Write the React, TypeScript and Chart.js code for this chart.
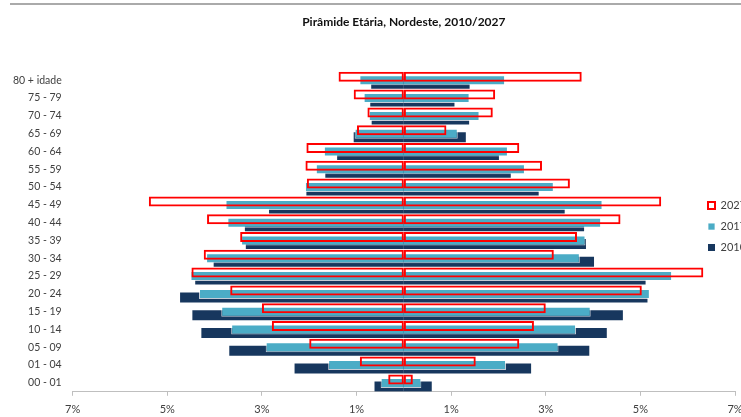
import React, { useEffect, useRef } from "react";
import { Chart, registerables } from "chart.js";

Chart.register(...registerables);

// Age groups (bottom to top of the pyramid)
const ageGroups = [
  "00 - 01", "01 - 04", "05 - 09", "10 - 14", "15 - 19", "20 - 24",
  "25 - 29", "30 - 34", "35 - 39", "40 - 44", "45 - 49", "50 - 54",
  "55 - 59", "60 - 64", "65 - 69", "70 - 74", "75 - 79", "80 + idade",
];

// Left side of the pyramid (shown as positive %, drawn to the left)
const left2010 = [0.62, 2.31, 3.69, 4.28, 4.47, 4.73, 4.41, 4.02, 3.34, 3.36, 2.85, 2.06, 1.66, 1.41, 1.06, 0.68, 0.71, 0.69];
const left2017 = [0.49, 1.60, 2.92, 3.65, 3.86, 4.33, 4.51, 4.18, 3.44, 3.73, 3.77, 2.09, 1.86, 1.69, 1.04, 0.74, 0.85, 0.94];
const left2027 = [0.33, 0.93, 2.00, 2.79, 3.00, 3.67, 4.49, 4.23, 3.46, 4.16, 5.39, 2.05, 2.08, 2.06, 0.99, 0.77, 1.06, 1.38];

// Right side of the pyramid
const right2010 = [0.59, 2.69, 3.92, 4.29, 4.63, 5.15, 5.11, 4.02, 3.85, 3.81, 3.40, 2.85, 2.26, 2.01, 1.31, 1.38, 1.07, 1.39];
const right2017 = [0.37, 2.16, 3.27, 3.64, 3.95, 5.20, 5.67, 3.72, 3.84, 4.17, 4.20, 3.17, 2.56, 2.20, 1.14, 1.60, 1.39, 2.14];
const right2027 = [0.19, 1.52, 2.44, 2.75, 3.00, 5.03, 6.33, 3.17, 3.66, 4.58, 5.44, 3.51, 2.92, 2.44, 0.90, 1.88, 1.93, 3.76];

const seriesLabels = ["2027", "2017", "2010"];
const xTickValues = [-7, -5, -3, -1, 1, 3, 5, 7];
const titleText = "Pirâmide Etária, Nordeste, 2010/2027";

const FONT = "Lato, 'Open Sans', sans-serif";
const RED = "#ff0000";
const LIGHT = "#4bacc6";
const DARK = "#17375e";

// Place the legend over the right edge of the plot, as in the original
const legendShift = {
  id: "legendShift",
  beforeDraw(chart: any) {
    const lg = chart.legend;
    if (!lg) return;
    lg.left = chart.chartArea.right - 37;
    lg.width = 80;
    lg.right = lg.left + lg.width;
    lg.top = chart.chartArea.top - 5;
    lg.bottom = chart.chartArea.bottom - 5;
    lg.height = lg.bottom - lg.top;
  },
};

export default function App() {
  const ref = useRef<HTMLCanvasElement | null>(null);

  useEffect(() => {
    if (!ref.current) return;
    const neg = (a: number[]) => a.map((v) => -v);
    const styles: Record<string, any> = {
      "2027": {
        backgroundColor: "rgba(255,255,255,0)",
        borderColor: RED,
        borderWidth: 2,
        borderSkipped: false,
      },
      "2017": {
        backgroundColor: LIGHT,
        borderColor: "rgba(255,255,255,0.75)",
        borderWidth: 1,
        borderSkipped: "start",
      },
      "2010": {
        backgroundColor: DARK,
        borderColor: DARK,
        borderWidth: 0,
        borderSkipped: "start",
      },
    };
    const leftData: Record<string, number[]> = { "2010": left2010, "2017": left2017, "2027": left2027 };
    const rightData: Record<string, number[]> = { "2010": right2010, "2017": right2017, "2027": right2027 };
    const datasets: any[] = [];
    seriesLabels.forEach((s) => {
      datasets.push({ label: s, stack: s, data: rightData[s], ...styles[s] });
      datasets.push({ label: s, stack: s, data: neg(leftData[s]), ...styles[s] });
    });

    const chart = new Chart(ref.current, {
      type: "bar",
      data: { labels: ageGroups, datasets },
      plugins: [legendShift],
      options: {
        indexAxis: "y",
        animation: false,
        responsive: true,
        maintainAspectRatio: false,
        categoryPercentage: 0.59,
        barPercentage: 2.85,
        layout: { padding: { left: 2, right: 44, top: 0, bottom: -6 } },
        scales: {
          x: {
            type: "linear",
            min: -7,
            max: 7,
            afterBuildTicks: (scale: any) => {
              scale.ticks = xTickValues.map((v) => ({ value: v }));
            },
            grid: {
              display: true,
              drawOnChartArea: false,
              drawTicks: true,
              tickLength: 4,
              color: "#bfbfbf",
            },
            border: { display: true, color: "#bfbfbf", width: 1 },
            ticks: {
              padding: 7,
              color: "#404040",
              font: { family: FONT, size: 11 },
              callback: (v: any) => Math.abs(Number(v)) + "%",
              maxRotation: 0,
              autoSkip: false,
            },
          },
          y: {
            type: "category",
            reverse: true,
            grid: { display: false, drawTicks: false },
            border: { display: false },
            ticks: {
              padding: 11,
              color: "#404040",
              font: { family: FONT, size: 10.5 },
              autoSkip: false,
            },
          },
        },
        plugins: {
          title: {
            display: true,
            text: titleText,
            fullSize: false,
            color: "#111111",
            font: { family: FONT, size: 12, weight: "bold" },
            padding: { top: 15, bottom: 42 },
          },
          legend: {
            display: true,
            position: "right",
            fullSize: false,
            maxWidth: 1,
            labels: {
              boxWidth: 7,
              boxHeight: 7,
              padding: 10,
              color: "#404040",
              font: { family: FONT, size: 11 },
              filter: (item: any) => item.datasetIndex % 2 === 0,
            },
          },
          tooltip: { enabled: false },
        },
      },
    });
    return () => chart.destroy();
  }, []);

  return (
    <div
      style={{
        position: "fixed",
        left: 0,
        top: 0,
        width: 741,
        height: 417,
        overflow: "hidden",
        background: "#ffffff",
      }}
    >
      <div
        style={{
          position: "absolute",
          left: 10,
          top: 3,
          width: 760,
          height: 2,
          background: "#aaaaaa",
        }}
      />
      <div style={{ position: "absolute", left: 0, top: 0, width: 780, height: 417 }}>
        <canvas ref={ref} />
      </div>
    </div>
  );
}
